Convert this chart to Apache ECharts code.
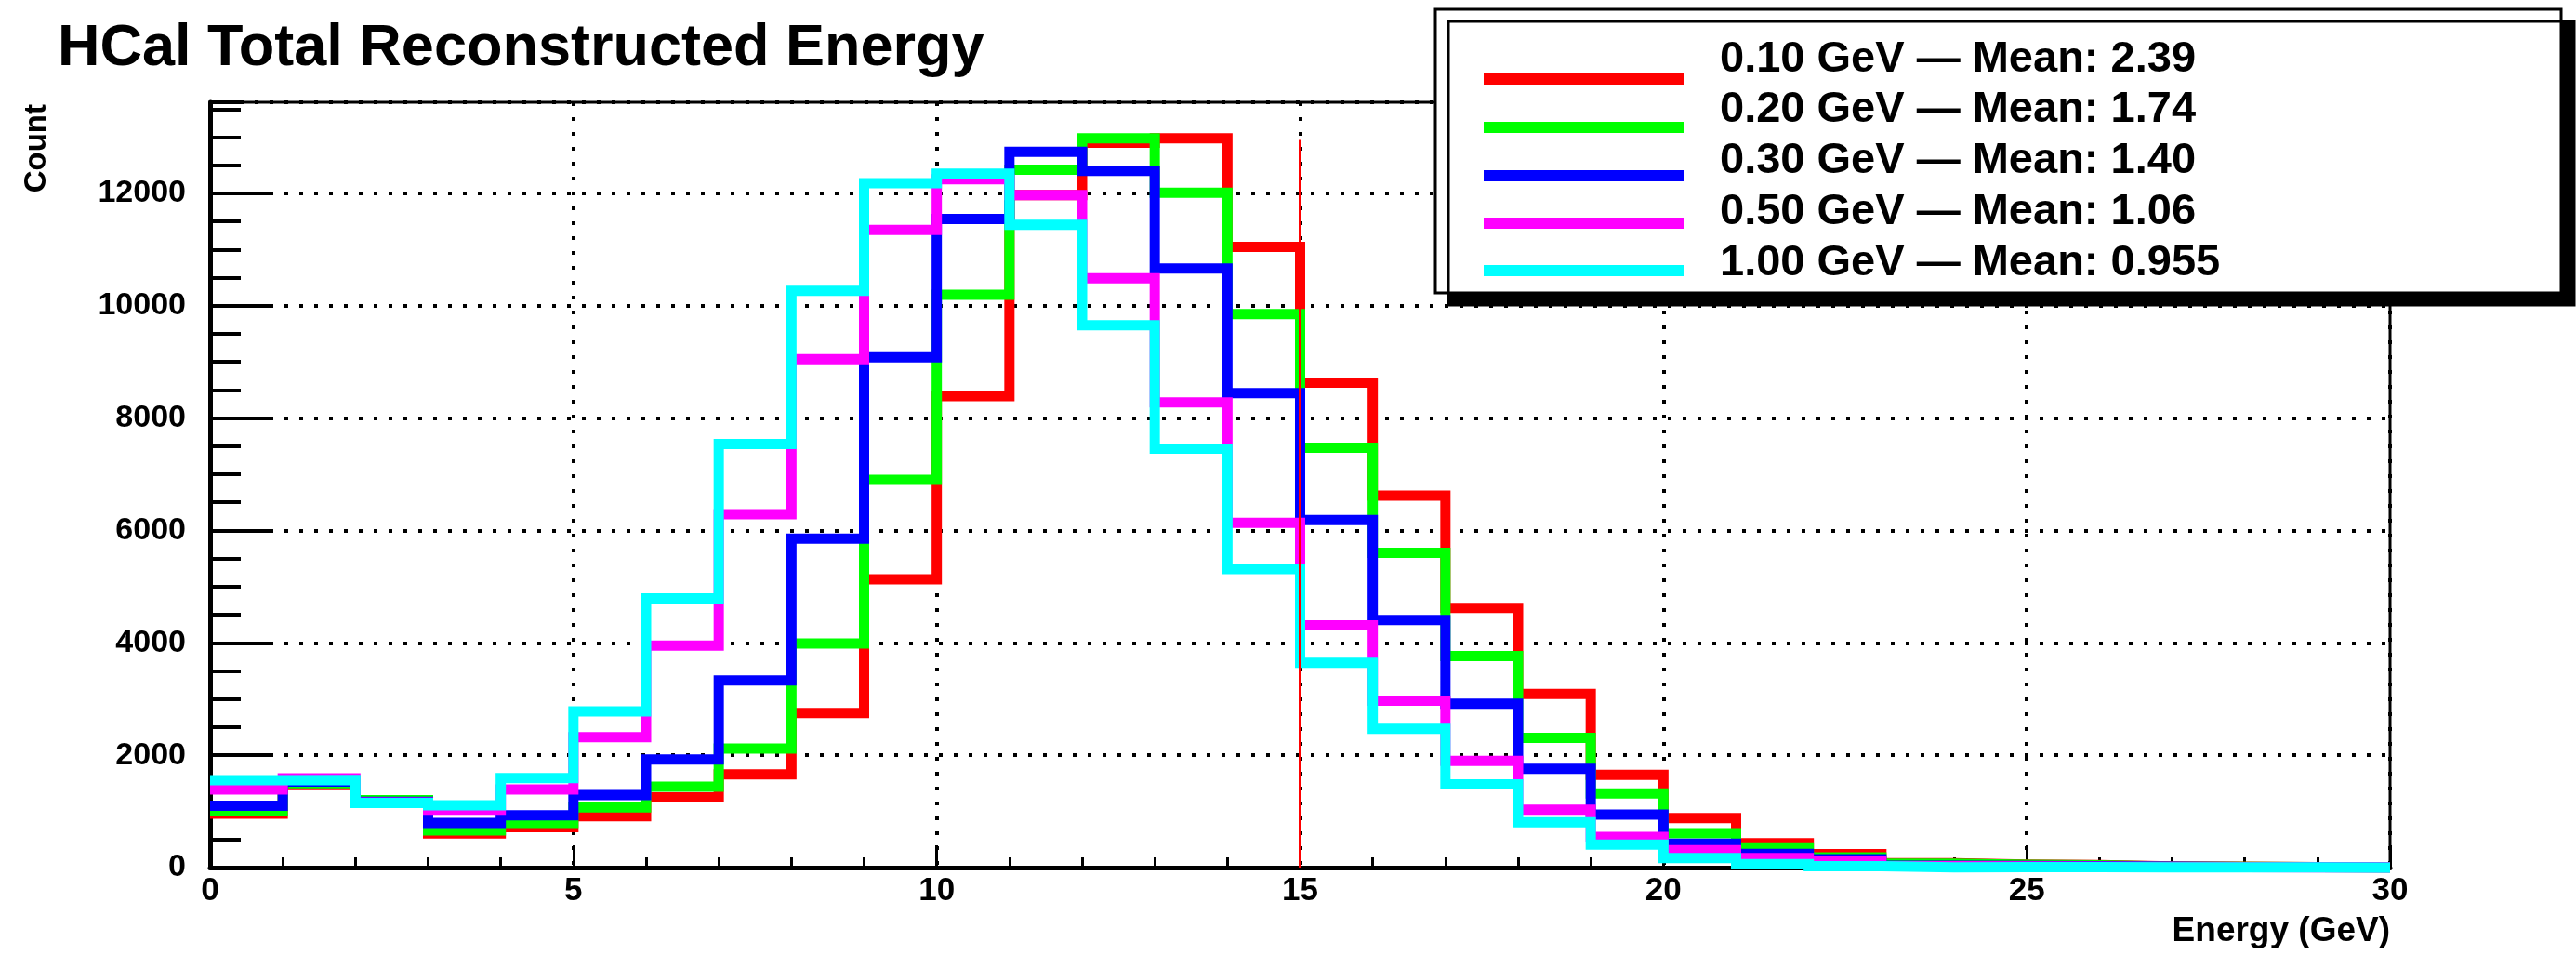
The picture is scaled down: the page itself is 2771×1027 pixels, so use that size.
<!DOCTYPE html>
<html>
<head>
<meta charset="utf-8">
<script src="https://cdn.jsdelivr.net/npm/echarts@6/dist/echarts.min.js"></script>
<style>
html,body{margin:0;padding:0;background:#ffffff;}
#chart{width:2771px;height:1027px;}
</style>
</head>
<body>
<div id="chart"></div>
<script>
// ---------------- data ----------------
const chartTitle = 'HCal Total Reconstructed Energy';
const xTitle = 'Energy (GeV)';
const yTitle = 'Count';
const binEdges = [0,1,2,3,4,5,6,7,8,9,10,11,12,13,14,15,16,17,18,19,20,21,22,23,24,25,26,27,28,29,30];
const seriesNames = [
  '0.10 GeV \u2014 Mean: 2.39',
  '0.20 GeV \u2014 Mean: 1.74',
  '0.30 GeV \u2014 Mean: 1.40',
  '0.50 GeV \u2014 Mean: 1.06',
  '1.00 GeV \u2014 Mean: 0.955'
];
const seriesColors = ['#ff0000', '#00ff00', '#0000ff', '#ff00ff', '#00ffff'];
const counts010 = [960,1470,1180,610,720,915,1250,1660,2750,5130,8390,11970,12900,12980,11045,8630,6620,4620,3090,1650,880,435,240,80,55,45,20,15,10,8];
const counts020 = [1000,1500,1200,660,795,1070,1440,2120,3990,6900,10195,12420,12980,12010,9850,7470,5600,3765,2310,1320,612,345,180,70,50,40,18,12,10,6];
const counts030 = [1100,1530,1170,795,930,1290,1925,3330,5855,9080,11545,12740,12400,10663,8445,6185,4405,2915,1760,943,425,243,149,35,30,25,15,10,8,5];
const counts050 = [1390,1590,1160,1030,1390,2320,3950,6290,9050,11350,12250,11970,10490,8280,6135,4310,2970,1897,1030,546,309,170,120,25,20,18,12,8,6,5];
const counts100 = [1555,1560,1150,1108,1593,2780,4790,7540,10266,12180,12350,11440,9654,7454,5311,3646,2470,1483,805,408,171,60,25,5,10,8,5,4,3,2];
const allCounts = [counts010, counts020, counts030, counts050, counts100];
const markerEnergy = 15;      // vertical reference line position (GeV)
const markerTop = 12950;      // its upper end (counts)
const xMin = 0, xMax = 30, xMajorStep = 5;
const yMin = 0, yMax = 13620, yMajorStep = 2000, yMinorStep = 500;

// ---------------- layout (pixels) ----------------
const FONT = '"Liberation Sans", Arial, Helvetica, sans-serif';
const legendBox = { x: 1544, y: 10, w: 1211, h: 305 };
const legendLineX = 1596, legendLineW = 215, legendLineH = 12;
const legendTextX = 1850;
const legendTextY = [64, 118, 173, 228, 283];
const legendLineY = [85, 137, 189, 240, 291];

// ---------------- build ----------------
function histPoints(vals) {
  const pts = vals.map((v, i) => [binEdges[i], v]);
  pts.push([binEdges[vals.length], vals[vals.length - 1]]);
  return pts;
}

const series = allCounts.map((vals, i) => ({
  name: seriesNames[i],
  type: 'line',
  step: 'end',
  data: histPoints(vals),
  symbol: 'none',
  showSymbol: false,
  clip: false,
  silent: true,
  animation: false,
  color: seriesColors[i],
  lineStyle: { color: seriesColors[i], width: 11, join: 'miter', cap: 'butt' },
  xAxisIndex: 0,
  yAxisIndex: 0
}));
series.push({
  name: 'marker',
  type: 'line',
  data: [[markerEnergy, 0], [markerEnergy, markerTop]],
  symbol: 'none',
  clip: false,
  silent: true,
  animation: false,
  lineStyle: { color: '#ff0000', width: 3 },
  xAxisIndex: 0,
  yAxisIndex: 0,
  z: 5
});

const graphics = [
  {
    type: 'rect', z: 50, silent: true,
    shape: { x: legendBox.x, y: legendBox.y, width: legendBox.w, height: legendBox.h },
    style: { fill: '#fff', stroke: '#000', lineWidth: 3, shadowBlur: 0, shadowOffsetX: 14, shadowOffsetY: 13, shadowColor: '#000' }
  },
  {
    type: 'text', z: 60, silent: true, x: 62, y: 53,
    style: { text: chartTitle, fill: '#000', font: 'bold 63px ' + FONT, textAlign: 'left', textVerticalAlign: 'middle' }
  },
  {
    type: 'text', z: 60, silent: true, x: 40, y: 112, rotation: Math.PI / 2,
    style: { text: yTitle, fill: '#000', font: 'bold 33px ' + FONT, textAlign: 'right', textVerticalAlign: 'middle' }
  },
  {
    type: 'text', z: 60, silent: true, x: 2571, y: 1002,
    style: { text: xTitle, fill: '#000', font: 'bold 37px ' + FONT, textAlign: 'right', textVerticalAlign: 'middle' }
  }
];
seriesNames.forEach((name, i) => {
  graphics.push({
    type: 'rect', z: 55, silent: true,
    shape: { x: legendLineX, y: legendLineY[i] - legendLineH / 2, width: legendLineW, height: legendLineH },
    style: { fill: seriesColors[i] }
  });
  graphics.push({
    type: 'text', z: 55, silent: true, x: legendTextX, y: legendTextY[i],
    style: { text: name, fill: '#000', font: 'bold 47px ' + FONT, textAlign: 'left', textVerticalAlign: 'middle' }
  });
});

const chart = echarts.init(document.getElementById('chart'), null, { renderer: 'canvas' });
chart.setOption({
  animation: false,
  backgroundColor: '#ffffff',
  grid: {
    left: 226, right: 200, top: 110, bottom: 94,
    show: true, borderColor: '#000', borderWidth: 3, backgroundColor: 'transparent'
  },
  xAxis: [{
    type: 'value', min: xMin, max: xMax, interval: xMajorStep,
    position: 'bottom',
    axisLine: { show: true, onZero: false, lineStyle: { color: '#000', width: 5 } },
    axisTick: { show: true, inside: true, length: 24, lineStyle: { color: '#000', width: 3 } },
    minorTick: { show: true, splitNumber: 5, length: 11, lineStyle: { color: '#000', width: 3 } },
    axisLabel: { show: true, margin: 8, color: '#000', fontSize: 35, fontWeight: 'bold', fontFamily: FONT },
    splitLine: { show: true, lineStyle: { color: '#000', width: 4, type: [4, 12] } },
    minorSplitLine: { show: false }
  }],
  yAxis: [{
    type: 'value', min: yMin, max: yMax, interval: yMajorStep,
    position: 'left',
    axisLine: { show: true, onZero: false, lineStyle: { color: '#000', width: 5 } },
    axisTick: { show: true, inside: true, length: 66, lineStyle: { color: '#000', width: 4 } },
    axisLabel: {
      show: true, margin: 26, color: '#000', fontSize: 34, fontWeight: 'bold', fontFamily: FONT,
      showMaxLabel: false,
      formatter: v => (v % yMajorStep === 0 ? String(v) : '')
    },
    splitLine: { show: true, lineStyle: { color: '#000', width: 4, type: [4, 12] } }
  }, {
    type: 'value', min: yMin, max: yMax, interval: yMinorStep,
    position: 'left', offset: 0,
    axisLine: { show: false },
    axisTick: { show: true, inside: true, length: 33, lineStyle: { color: '#000', width: 4 } },
    axisLabel: { show: false },
    splitLine: { show: false }
  }],
  graphic: graphics,
  series: series
});
</script>
</body>
</html>
